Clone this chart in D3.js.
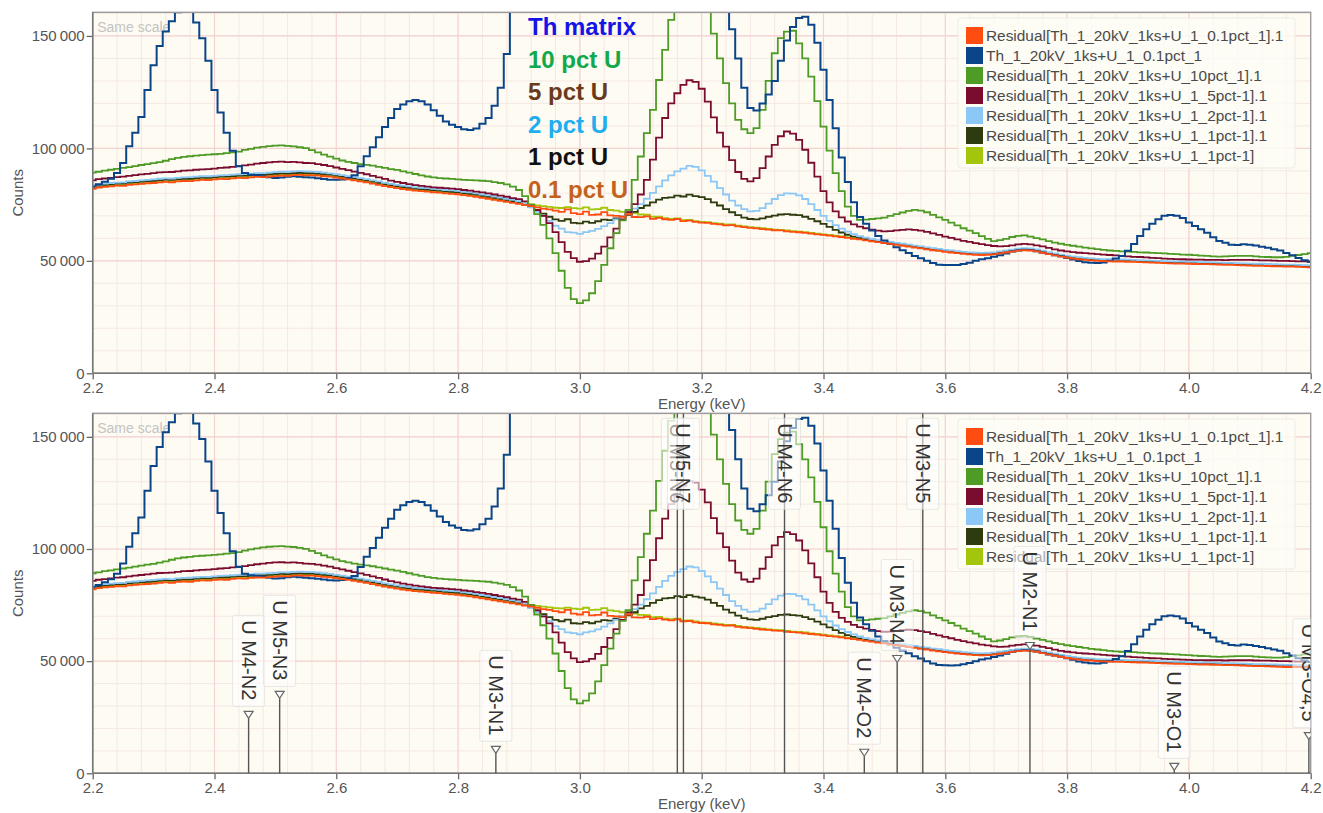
<!DOCTYPE html>
<html>
<head>
<meta charset="utf-8">
<script src="https://cdn.jsdelivr.net/npm/d3@7"></script>
<style>
  body { margin: 0; background: #ffffff; }
  svg { display: block; }
  text { font-family: "Liberation Sans", Arial, sans-serif; }
</style>
</head>
<body>
<svg id="chart" width="1323" height="813"></svg>
<script>
// Spectra binned every 10 eV from 2.20 keV to 4.20 keV, values in thousands of counts.
const binStart = 2.20;
const binWidth = 0.01;

const residual01pct = [
  82.0, 82.6, 82.9, 83.1, 83.4, 83.3, 83.8, 84.0, 84.2, 84.4,
  84.6, 84.9, 85.1, 84.9, 85.3, 85.5, 85.4, 85.8, 86.0, 85.9,
  86.2, 86.4, 86.3, 86.7, 86.9, 86.8, 87.1, 87.3, 87.2, 87.5,
  87.7, 87.9, 87.8, 88.1, 88.2, 88.0, 88.1, 87.9, 87.6, 87.4,
  87.0, 86.6, 86.2, 85.8, 85.3, 84.9, 84.3, 83.8, 83.2, 82.8,
  82.3, 81.9, 81.6, 81.2, 81.0, 80.8, 80.5, 80.3, 80.0, 79.8,
  79.6, 79.2, 78.9, 78.5, 78.0, 77.6, 77.1, 76.7, 76.2, 75.8,
  75.3, 74.8, 74.3, 73.8, 73.2, 72.9, 72.3, 71.8, 72.9, 71.2,
  70.8, 71.9, 70.4, 70.6, 71.7, 70.2, 70.0, 69.6, 70.8, 69.5,
  69.4, 69.8, 68.7, 69.1, 68.5, 68.2, 68.6, 67.7, 67.9, 67.3,
  67.0, 66.9, 66.4, 66.2, 65.8, 65.9, 65.3, 65.0, 64.7, 64.4,
  64.1, 63.9, 63.6, 63.5, 63.1, 62.9, 62.7, 62.4, 62.1, 61.8,
  61.5, 61.2, 60.9, 60.6, 60.2, 59.8, 59.5, 59.1, 58.7, 58.3,
  57.9, 57.5, 57.1, 56.7, 56.3, 55.9, 55.5, 55.1, 54.7, 54.4,
  54.0, 53.7, 53.4, 53.1, 52.9, 52.7, 52.6, 52.7, 52.9, 53.3,
  53.7, 54.1, 54.5, 54.7, 54.6, 54.2, 53.6, 53.0, 52.4, 51.9,
  51.4, 51.0, 50.7, 50.4, 50.2, 50.0, 49.9, 49.8, 49.7, 49.7,
  49.6, 49.5, 49.4, 49.3, 49.2, 49.1, 49.0, 48.9, 48.8, 48.8,
  48.7, 48.6, 48.5, 48.5, 48.4, 48.3, 48.2, 48.2, 48.1, 48.0,
  47.9, 47.8, 47.8, 47.7, 47.6, 47.5, 47.4, 47.4, 47.3, 47.2,
  47.1
];

const thMatrix = [
  83.0, 84.0, 85.2, 86.5, 89.0, 93.5, 101.0, 107.0, 114.0, 126.0,
  137.0, 145.5, 152.0, 156.5, 160.5, 163.0, 161.0, 156.0, 149.0, 139.0,
  126.0, 116.0, 107.0, 99.0, 92.0, 89.0, 88.3, 88.0, 87.6, 87.2,
  86.8, 87.0, 87.4, 87.6, 87.4, 87.2, 87.0, 86.7, 86.4, 86.1,
  86.0, 86.2, 86.8, 88.0, 92.0, 96.5, 100.5, 105.0, 109.5, 113.5,
  117.5, 119.5, 121.0, 121.5, 121.0, 119.5, 117.0, 114.5, 112.0, 110.5,
  109.5, 108.5, 108.2, 108.8, 111.0, 113.5, 119.0, 127.0, 142.0, 170.0,
  210, 270, 350, 430, 520, 620, 740, 850, 940, 990,
  1000, 970, 890, 780, 660, 550, 460, 400, 370, 370,
  390, 420, 460, 500, 530, 540, 530, 490, 440, 380,
  310, 250, 210, 185, 168, 153, 140, 127, 118, 116.8,
  120, 124, 130, 139, 148, 154, 158, 158.5, 155, 147,
  135, 121.5, 109, 96, 85, 76, 69.5, 66.5, 63.5, 61,
  59, 57.5, 56, 54.7, 53.5, 52.2, 51.2, 50, 49, 48.3,
  48.2, 48.1, 48.2, 48.6, 49.2, 50, 50.7, 51.2, 51.8, 52.5,
  53.3, 54.1, 54.6, 54.9, 54.8, 54.3, 53.6, 53, 52.5, 52,
  51.3, 50.6, 49.9, 49.4, 49.1, 49, 49.3, 50, 51, 52.2,
  54.5, 57.5, 61, 64, 66.5, 68.5, 70, 70.4, 70, 69,
  67, 65.5, 64, 62.5, 60.5, 58.8, 58, 57.2, 57, 57.4,
  57.2, 56.8, 56.3, 55.8, 55.2, 54.6, 53.5, 52.5, 51.3, 50.3,
  49.6
];

const residual10pct = [
  89.2, 89.6, 90.1, 90.5, 90.9, 91.3, 91.7, 92.1, 92.6, 93.0,
  93.4, 93.9, 94.5, 95.2, 95.8, 96.2, 96.5, 96.8, 97.0, 97.2,
  97.4, 97.6, 97.9, 98.2, 98.6, 99.3, 99.8, 100.3, 100.7, 101.0,
  101.2, 101.3, 101.1, 100.9, 100.5, 100.1, 99.2, 98.2, 97.2, 96.3,
  95.4, 94.6, 94.0, 93.5, 93.0, 92.7, 92.3, 91.8, 91.3, 90.8,
  90.4, 89.8, 89.2, 88.6, 88.0, 87.5, 87.1, 86.8, 86.6, 86.4,
  86.2, 86.0, 85.9, 85.8, 85.6, 85.4, 85.0, 84.6, 84.0, 83.0,
  81.5, 78.8, 75.0, 70.8, 66.0, 60.0, 53.4, 45.6, 38.0, 33.0,
  31.2, 32.4, 35.6, 41.0, 48.2, 55.6, 62.3, 68.0, 72.7, 86.0,
  96.4, 106.8, 117.1, 130.4, 143.8, 157.1, 174.0, 188.0, 195.0, 192.0,
  182.0, 166.0, 151.0, 140.0, 129.0, 120.0, 112.7, 108.5, 106.8, 109.0,
  117.1, 130.0, 142.3, 149.0, 151.9, 152.3, 146.7, 140.0, 131.9, 121.0,
  109.7, 99.0, 89.0, 81.0, 74.1, 70.0, 68.2, 68.3, 68.6, 68.9,
  69.2, 70.0, 70.8, 71.5, 72.2, 72.7, 72.3, 71.6, 70.4, 69.3,
  68.2, 67.0, 65.8, 64.5, 63.4, 62.3, 61.0, 59.8, 58.8, 59.2,
  59.8, 60.6, 61.1, 61.3, 60.8, 60.1, 59.5, 58.8, 58.1, 57.6,
  57.1, 56.7, 56.3, 55.9, 55.5, 55.2, 54.9, 54.6, 54.4, 54.2,
  54.1, 54.0, 53.8, 53.7, 53.5, 53.4, 53.3, 53.1, 53.0, 52.8,
  52.7, 52.5, 52.3, 52.2, 52.0, 51.9, 52.0, 52.1, 52.2, 52.2,
  52.2, 52.0, 51.8, 51.7, 51.6, 51.6, 51.8, 52.2, 52.6, 53.0,
  53.4
];

const residual5pct = [
  85.8, 86.3, 86.6, 86.9, 87.2, 87.4, 87.8, 88.1, 88.4, 88.7,
  89.0, 89.3, 89.4, 89.5, 89.8, 90.1, 90.2, 90.5, 90.7, 90.8,
  91.0, 91.3, 91.5, 91.8, 92.1, 92.4, 92.8, 93.2, 93.5, 93.8,
  94.0, 94.1, 93.9, 94.0, 93.8, 93.5, 93.4, 93.0, 92.6, 92.1,
  91.5, 90.9, 90.3, 89.7, 89.1, 88.5, 87.8, 87.1, 86.4, 85.7,
  85.1, 84.6, 84.1, 83.7, 83.3, 83.0, 82.7, 82.5, 82.3, 82.1,
  81.9, 81.5, 81.2, 80.8, 80.4, 80.0, 79.5, 79.0, 78.5, 77.9,
  77.4, 76.4, 74.8, 72.6, 70.0, 66.8, 62.8, 58.3, 54.0, 51.2,
  49.6, 49.9, 51.0, 53.2, 56.3, 60.4, 64.3, 68.4, 71.6, 75.2,
  79.5, 86.0, 95.0, 104.8, 113.5, 120.0, 124.5, 128.2, 130.3, 129.6,
  126.5, 120.8, 113.8, 107.0, 100.8, 94.8, 89.5, 86.4, 85.3, 86.8,
  91.2, 96.4, 101.6, 105.4, 107.5, 106.6, 103.8, 99.4, 93.6, 87.4,
  81.0, 76.0, 72.0, 69.3, 67.5, 66.2, 65.2, 64.5, 63.9, 63.4,
  63.1, 63.2, 63.5, 63.8, 64.0, 63.8, 63.4, 62.9, 62.2, 61.5,
  60.8, 60.2, 59.5, 58.9, 58.4, 57.9, 57.4, 57.0, 56.6, 56.4,
  56.5, 56.9, 57.3, 57.5, 57.3, 56.9, 56.4, 55.8, 55.1, 54.6,
  54.2, 53.9, 53.6, 53.4, 53.2, 53.0, 52.8, 52.6, 52.4, 52.2,
  52.0, 51.8, 51.7, 51.5, 51.3, 51.2, 51.0, 50.9, 50.8, 50.7,
  50.6, 50.5, 50.5, 50.4, 50.4, 50.4, 50.3, 50.4, 50.4, 50.4,
  50.4, 50.3, 50.2, 50.2, 50.1, 50.0, 50.0, 49.9, 49.8, 49.8,
  49.7
];

const residual2pct = [
  83.4, 83.9, 84.3, 84.6, 84.8, 84.9, 85.3, 85.5, 85.8, 86.0,
  86.2, 86.5, 86.7, 86.6, 86.9, 87.1, 87.2, 87.4, 87.6, 87.6,
  87.8, 88.0, 88.1, 88.3, 88.5, 88.6, 88.8, 89.0, 89.0, 89.2,
  89.4, 89.6, 89.6, 89.8, 89.9, 89.8, 89.7, 89.5, 89.2, 88.9,
  88.5, 88.1, 87.7, 87.3, 86.8, 86.3, 85.8, 85.3, 84.7, 84.2,
  83.8, 83.4, 83.1, 82.7, 82.5, 82.3, 82.0, 81.8, 81.5, 81.3,
  81.1, 80.7, 80.4, 80.0, 79.5, 79.1, 78.6, 78.1, 77.6, 77.1,
  76.5, 75.5, 73.8, 71.8, 69.9, 67.8, 65.6, 64.3, 62.8, 62.5,
  62.0, 62.8, 63.3, 64.2, 65.4, 66.8, 68.4, 70.0, 71.6, 73.2,
  75.2, 77.6, 80.2, 83.1, 85.8, 88.0, 89.8, 91.0, 92.2, 91.8,
  90.2, 87.8, 85.2, 82.3, 79.5, 76.8, 74.6, 73.0, 72.0, 72.2,
  73.4, 75.4, 77.5, 79.2, 80.0, 79.9, 79.1, 77.5, 75.2, 72.6,
  70.0, 67.8, 65.9, 64.3, 63.0, 61.9, 61.0, 60.3, 59.7, 59.2,
  58.8, 58.4, 58.0, 57.6, 57.2, 56.8, 56.4, 56.0, 55.6, 55.3,
  54.9, 54.6, 54.3, 54.0, 53.8, 53.6, 53.5, 53.6, 53.8, 54.2,
  54.6, 55.0, 55.4, 55.6, 55.5, 55.1, 54.5, 53.9, 53.3, 52.8,
  52.3, 51.9, 51.6, 51.3, 51.1, 50.9, 50.8, 50.7, 50.6, 50.6,
  50.5, 50.4, 50.3, 50.2, 50.1, 50.0, 49.9, 49.8, 49.7, 49.7,
  49.6, 49.5, 49.4, 49.4, 49.3, 49.2, 49.1, 49.1, 49.0, 48.9,
  48.8, 48.7, 48.7, 48.6, 48.5, 48.4, 48.3, 48.3, 48.2, 48.1,
  48.0
];

const residual1pctB = [
  82.9, 83.4, 83.8, 84.0, 84.3, 84.3, 84.8, 85.0, 85.2, 85.4,
  85.6, 85.9, 86.1, 86.0, 86.3, 86.5, 86.5, 86.8, 87.0, 86.9,
  87.2, 87.4, 87.4, 87.7, 87.9, 87.9, 88.1, 88.3, 88.3, 88.5,
  88.7, 88.9, 88.8, 89.0, 89.1, 89.0, 89.0, 88.8, 88.5, 88.3,
  87.9, 87.5, 87.1, 86.7, 86.2, 85.8, 85.2, 84.7, 84.1, 83.7,
  83.2, 82.8, 82.5, 82.1, 81.9, 81.7, 81.4, 81.2, 80.9, 80.7,
  80.5, 80.1, 79.8, 79.4, 78.9, 78.5, 78.0, 77.6, 77.1, 76.6,
  76.0, 75.2, 74.0, 72.6, 71.0, 69.6, 68.4, 67.8, 68.5, 66.9,
  66.7, 67.4, 66.9, 67.6, 68.3, 68.1, 68.9, 69.8, 70.4, 71.8,
  73.5, 74.6, 76.0, 77.2, 78.0, 78.2, 79.0, 78.6, 79.4, 78.8,
  78.3, 77.4, 76.0, 74.6, 73.0, 71.6, 70.3, 69.2, 68.6, 68.4,
  68.9, 69.6, 70.1, 70.6, 70.8, 70.5, 70.3, 69.6, 68.7, 67.6,
  66.4, 65.1, 63.8, 62.6, 61.6, 60.8, 60.1, 59.6, 59.2, 58.8,
  58.4, 58.0, 57.6, 57.2, 56.8, 56.4, 56.0, 55.6, 55.2, 54.9,
  54.5, 54.2, 53.9, 53.6, 53.4, 53.2, 53.1, 53.2, 53.4, 53.8,
  54.2, 54.6, 55.0, 55.2, 55.1, 54.7, 54.1, 53.5, 52.9, 52.4,
  51.9, 51.5, 51.2, 50.9, 50.7, 50.5, 50.4, 50.3, 50.2, 50.2,
  50.1, 50.0, 49.9, 49.8, 49.7, 49.6, 49.5, 49.4, 49.3, 49.3,
  49.2, 49.1, 49.0, 49.0, 48.9, 48.8, 48.7, 48.7, 48.6, 48.5,
  48.4, 48.3, 48.3, 48.2, 48.1, 48.0, 47.9, 47.9, 47.8, 47.7,
  47.6
];

const residual1pct = [
  82.3, 82.8, 83.2, 83.4, 83.6, 83.7, 84.1, 84.3, 84.5, 84.7,
  84.9, 85.2, 85.3, 85.3, 85.6, 85.8, 85.8, 86.1, 86.3, 86.2,
  86.5, 86.7, 86.7, 87.0, 87.2, 87.2, 87.4, 87.6, 87.6, 87.8,
  88.0, 88.2, 88.2, 88.4, 88.5, 88.4, 88.4, 88.2, 88.0, 87.7,
  87.3, 86.9, 86.6, 86.1, 85.7, 85.2, 84.7, 84.1, 83.6, 83.1,
  82.6, 82.2, 81.9, 81.5, 81.3, 81.1, 80.8, 80.6, 80.3, 80.1,
  79.9, 79.5, 79.2, 78.9, 78.4, 78.0, 77.5, 77.1, 76.7, 76.3,
  75.9, 75.5, 75.1, 74.6, 74.3, 74.0, 73.6, 73.5, 73.9, 73.4,
  73.2, 73.8, 72.9, 73.0, 73.6, 72.6, 72.3, 71.8, 72.1, 71.2,
  70.6, 70.5, 69.6, 69.7, 69.0, 68.7, 68.9, 68.1, 68.2, 67.7,
  67.3, 67.2, 66.8, 66.5, 66.2, 66.2, 65.7, 65.3, 65.0, 64.8,
  64.5, 64.2, 63.9, 63.8, 63.5, 63.2, 63.0, 62.8, 62.4, 62.1,
  61.8, 61.5, 61.2, 60.9, 60.5, 60.1, 59.8, 59.4, 59.0, 58.6,
  58.2, 57.8, 57.4, 57.0, 56.6, 56.2, 55.8, 55.4, 55.0, 54.7,
  54.3, 54.0, 53.7, 53.4, 53.2, 53.0, 52.9, 53.0, 53.2, 53.6,
  54.0, 54.4, 54.8, 55.0, 54.9, 54.5, 53.9, 53.3, 52.7, 52.2,
  51.7, 51.3, 51.0, 50.7, 50.5, 50.3, 50.2, 50.1, 50.0, 50.0,
  49.9, 49.8, 49.7, 49.6, 49.5, 49.4, 49.3, 49.2, 49.1, 49.1,
  49.0, 48.9, 48.8, 48.8, 48.7, 48.6, 48.5, 48.5, 48.4, 48.3,
  48.2, 48.1, 48.1, 48.0, 47.9, 47.8, 47.7, 47.7, 47.6, 47.5,
  47.4
];

// Legend entries, in legend order (first entry is drawn last, on top).
const seriesNames = [
  "Residual[Th_1_20kV_1ks+U_1_0.1pct_1].1",
  "Th_1_20kV_1ks+U_1_0.1pct_1",
  "Residual[Th_1_20kV_1ks+U_10pct_1].1",
  "Residual[Th_1_20kV_1ks+U_1_5pct-1].1",
  "Residual[Th_1_20kV_1ks+U_1_2pct-1].1",
  "Residual[Th_1_20kV_1ks+U_1_1pct-1].1",
  "Residual[Th_1_20kV_1ks+U_1_1pct-1]"
];
const seriesValues = [residual01pct, thMatrix, residual10pct, residual5pct, residual2pct, residual1pctB, residual1pct];
const seriesColors = ["#ff4d12", "#0b4589", "#4e9c26", "#7a0c30", "#8cc8f6", "#2d3b0e", "#a3c50c"];
const seriesWidths = [1.8, 2.0, 1.8, 1.8, 1.8, 1.8, 1.8];

const xTicks = [2.2, 2.4, 2.6, 2.8, 3.0, 3.2, 3.4, 3.6, 3.8, 4.0, 4.2];
const yTicks = [0, 50000, 100000, 150000];

const concentrationLabels = ["Th matrix", "10 pct U", "5 pct U", "2 pct U", "1 pct U", "0.1 pct U"];
const concentrationColors = ["#1414e6", "#12a84c", "#6b3a1b", "#1caef0", "#111111", "#c4621d"];

// Uranium M-line markers: energy (keV), marker height (counts; null = full height)
const lineMarkers = [
  { label: "U M4-N2",   energy: 2.456, height: 24500 },
  { label: "U M5-N3",   energy: 2.507, height: 33400 },
  { label: "U M3-N1",   energy: 2.862, height: 8900 },
  { label: "U M5-N6",   energy: 3.160, height: null },
  { label: "U M5-N7",   energy: 3.170, height: null },
  { label: "U M4-N6",   energy: 3.336, height: null },
  { label: "U M4-O2",   energy: 3.467, height: 7600 },
  { label: "U M3-N4",   energy: 3.521, height: 49400 },
  { label: "U M3-N5",   energy: 3.563, height: null },
  { label: "U M2-N1",   energy: 3.739, height: 55200 },
  { label: "U M3-O1",   energy: 3.976, height: 1300 },
  { label: "U M3-O4,5", energy: 4.197, height: 15000 }
];

const svg = d3.select("#chart");
const xLeft = 92.7, xRight = 1310.7;
const yMax = 160500;
const panels = [
  { top: 12.3, bottom: 373.3, id: "p1", markers: false, notes: true },
  { top: 413.3, bottom: 773.3, id: "p2", markers: true, notes: false }
];

const x = d3.scaleLinear().domain([2.2, 4.2]).range([xLeft, xRight]);
const energies = seriesValues[0].map((_, i) => binStart + i * binWidth);
const fmtCounts = v => d3.format(",")(v).replace(/,/g, "\u2009");

panels.forEach(p => {
  const y = d3.scaleLinear().domain([0, yMax]).range([p.bottom, p.top]);
  const g = svg.append("g");

  g.append("clipPath").attr("id", "clip-" + p.id)
    .append("rect").attr("x", xLeft).attr("y", p.top)
    .attr("width", xRight - xLeft).attr("height", p.bottom - p.top);

  // background
  g.append("rect").attr("x", xLeft).attr("y", p.top)
    .attr("width", xRight - xLeft).attr("height", p.bottom - p.top)
    .attr("fill", "#fdfbf2");

  // minor grid
  const minorX = d3.range(0, 51).map(i => 2.2 + i * 0.04);
  const minorY = d3.range(0, 17).map(i => i * 10000);
  const grid = g.append("g").attr("clip-path", `url(#clip-${p.id})`);
  grid.selectAll(".mx").data(minorX).join("line")
    .attr("x1", d => x(d)).attr("x2", d => x(d))
    .attr("y1", p.top).attr("y2", p.bottom)
    .attr("stroke", "#f5e8e4").attr("stroke-width", 1);
  grid.selectAll(".my").data(minorY).join("line")
    .attr("x1", xLeft).attr("x2", xRight)
    .attr("y1", d => y(d)).attr("y2", d => y(d))
    .attr("stroke", "#f5e8e4").attr("stroke-width", 1);
  // major grid
  grid.selectAll(".Mx").data(xTicks).join("line")
    .attr("x1", d => x(d)).attr("x2", d => x(d))
    .attr("y1", p.top).attr("y2", p.bottom)
    .attr("stroke", "#f4d2d2").attr("stroke-width", 1.1);
  grid.selectAll(".My").data(yTicks).join("line")
    .attr("x1", xLeft).attr("x2", xRight)
    .attr("y1", d => y(d)).attr("y2", d => y(d))
    .attr("stroke", "#f4d2d2").attr("stroke-width", 1.1);

  // "Same scale" tag
  g.append("text").attr("x", xLeft + 4.5).attr("y", p.top + 19.5)
    .attr("font-size", 14).attr("fill", "#c4c4c4").text("Same scale");

  // spectra
  const line = d3.line()
    .x((d, i) => x(energies[i]))
    .y(d => y(d * 1000))
    .curve(d3.curveStep);
  const curves = g.append("g").attr("clip-path", `url(#clip-${p.id})`);
  for (let s = seriesValues.length - 1; s >= 0; s--) {
    curves.append("path")
      .attr("d", line(seriesValues[s]))
      .attr("fill", "none")
      .attr("stroke", seriesColors[s])
      .attr("stroke-width", seriesWidths[s])
      .attr("stroke-linejoin", "miter");
  }

  // legend
  const lx = 958, ly = p.top + 5.7;
  const leg = g.append("g");
  leg.append("rect").attr("x", lx).attr("y", ly).attr("width", 337).attr("height", 150)
    .attr("rx", 3).attr("fill", "#fdfcf6").attr("fill-opacity", 0.85)
    .attr("stroke", "#efebe2").attr("stroke-width", 1);
  seriesNames.forEach((name, i) => {
    leg.append("rect").attr("x", lx + 8).attr("y", ly + 9 + i * 20)
      .attr("width", 17).attr("height", 17).attr("fill", seriesColors[i]);
    leg.append("text").attr("x", lx + 28).attr("y", ly + 23 + i * 20)
      .attr("font-size", 15.4).attr("fill", "#4a4a4a").text(name);
  });

  // axes
  const yAxis = d3.axisLeft(y).tickValues(yTicks).tickSize(6).tickPadding(2).tickFormat(fmtCounts);
  const xAxis = d3.axisBottom(x).tickValues(xTicks).tickSize(6).tickPadding(3).tickFormat(d3.format(".1f"));
  const ya = g.append("g").attr("transform", `translate(${xLeft},0)`).call(yAxis);
  const xa = g.append("g").attr("transform", `translate(0,${p.bottom})`).call(xAxis);
  [ya, xa].forEach(a => {
    a.select(".domain").remove();
    a.selectAll(".tick line").attr("stroke", "#666").attr("stroke-width", 1.3);
    a.selectAll(".tick text").attr("fill", "#555").attr("font-size", 15)
      .attr("font-family", "Liberation Sans, Arial, sans-serif");
  });

  // frame
  g.append("rect").attr("x", xLeft).attr("y", p.top)
    .attr("width", xRight - xLeft).attr("height", p.bottom - p.top)
    .attr("fill", "none").attr("stroke", "#9c9c9c").attr("stroke-width", 1.4);
  g.append("line").attr("x1", xLeft).attr("x2", xLeft).attr("y1", p.top).attr("y2", p.bottom)
    .attr("stroke", "#777").attr("stroke-width", 1.5);
  g.append("line").attr("x1", xLeft).attr("x2", xRight).attr("y1", p.bottom).attr("y2", p.bottom)
    .attr("stroke", "#777").attr("stroke-width", 1.5);

  // axis titles
  g.append("text").attr("x", (xLeft + xRight) / 2).attr("y", p.bottom + 36)
    .attr("text-anchor", "middle").attr("font-size", 15).attr("fill", "#555")
    .text("Energy (keV)");
  g.append("text")
    .attr("transform", `translate(23,${(p.top + p.bottom) / 2}) rotate(-90)`)
    .attr("text-anchor", "middle").attr("font-size", 15).attr("fill", "#555")
    .text("Counts");

  // concentration annotations
  if (p.notes) {
    concentrationLabels.forEach((t, i) => {
      g.append("text").attr("x", 528).attr("y", 35 + i * 32.5)
        .attr("font-size", 24).attr("font-weight", "bold")
        .attr("fill", concentrationColors[i]).text(t);
    });
  }

  // U M-line markers
  if (p.markers) {
    const mk = g.append("g").attr("clip-path", `url(#clip-${p.id})`);
    lineMarkers.forEach(m => {
      const cx = x(m.energy);
      const full = m.height === null;
      const apex = full ? p.top : y(m.height);
      mk.append("line").attr("x1", cx).attr("x2", cx)
        .attr("y1", p.bottom).attr("y2", apex)
        .attr("stroke", "#555").attr("stroke-width", 1.4);
      if (!full) {
        mk.append("path")
          .attr("d", `M${cx - 4.5},${apex - 7} L${cx + 4.5},${apex - 7} L${cx},${apex} Z`)
          .attr("fill", "#fff").attr("stroke", "#666").attr("stroke-width", 1.2);
      }
    });
    lineMarkers.forEach(m => {
      const cx = x(m.energy);
      const lbl = mk.append("g");
      const box = lbl.append("rect");
      const txt = lbl.append("text")
        .attr("font-size", 20).attr("fill", "#333")
        .attr("dominant-baseline", "central")
        .text(m.label);
      const len = txt.node().getComputedTextLength();
      const yStart = m.height === null ? p.top + 10 : y(m.height) - 7 - 11 - len;
      txt.attr("transform", `translate(${cx},${yStart}) rotate(90)`);
      box.attr("x", cx - 16).attr("y", yStart - 5)
        .attr("width", 32).attr("height", len + 11).attr("rx", 2)
        .attr("fill", "#ffffff").attr("fill-opacity", 0.55)
        .attr("stroke", "#d8d8d8").attr("stroke-opacity", 0.6);
    });
  }
});
</script>
</body>
</html>
